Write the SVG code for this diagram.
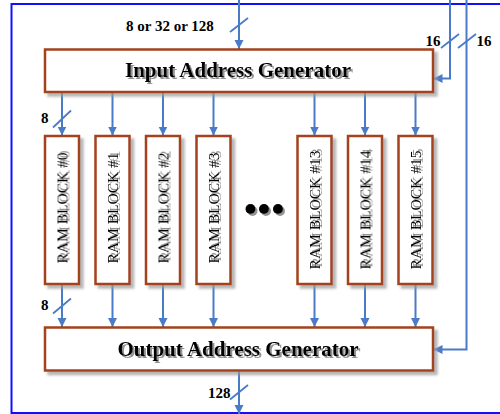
<svg xmlns="http://www.w3.org/2000/svg" width="500" height="414" viewBox="0 0 500 414">
<defs>
<style>
.frame{fill:none;stroke:#1010ff;stroke-width:2}
.box{fill:#fff;stroke:#a3421c;stroke-width:2.5}
.wire{fill:none;stroke:#4a7bc8;stroke-width:2}
.slash{fill:none;stroke:#4a7bc8;stroke-width:1.8}
.lbl{font-family:"Liberation Serif",serif;font-weight:bold;font-size:15px;fill:#000}
.title{font-family:"Liberation Serif",serif;font-weight:bold;font-size:21px;fill:#000;text-anchor:middle}
.ram{font-family:"Liberation Serif",serif;font-size:15.5px;fill:#000;text-anchor:middle}
</style>
<filter id="bs" x="-10%" y="-10%" width="130%" height="130%">
<feDropShadow dx="3.5" dy="3.5" stdDeviation="1" flood-color="#999" flood-opacity="0.7"/>
</filter>
<filter id="ts" x="-10%" y="-10%" width="130%" height="130%">
<feDropShadow dx="2" dy="2" stdDeviation="0.6" flood-color="#777" flood-opacity="0.8"/>
</filter>
<marker id="ah" viewBox="0 0 10 10" refX="10" refY="5" markerWidth="9" markerHeight="10" markerUnits="userSpaceOnUse" orient="auto">
<path d="M0,0 L10,5 L0,10 z" fill="#4a7bc8"/>
</marker>
</defs>
<rect class="frame" x="11.5" y="4" width="500" height="409"/>
<g id="connectors">
<path class="wire" d="M239,0 V49" marker-end="url(#ah)"/>
<path class="wire" d="M450,0 V78.5 H433.5" marker-end="url(#ah)"/>
<path class="wire" d="M466.5,0 V349.5 H433.5" marker-end="url(#ah)"/>
<path class="wire" d="M62,92.5 V135.5" marker-end="url(#ah)"/>
<path class="wire" d="M112.5,92.5 V135.5" marker-end="url(#ah)"/>
<path class="wire" d="M163,92.5 V135.5" marker-end="url(#ah)"/>
<path class="wire" d="M213.5,92.5 V135.5" marker-end="url(#ah)"/>
<path class="wire" d="M314.5,92.5 V135.5" marker-end="url(#ah)"/>
<path class="wire" d="M365,92.5 V135.5" marker-end="url(#ah)"/>
<path class="wire" d="M415.5,92.5 V135.5" marker-end="url(#ah)"/>
<path class="wire" d="M62,284 V327" marker-end="url(#ah)"/>
<path class="wire" d="M112.5,284 V327" marker-end="url(#ah)"/>
<path class="wire" d="M163,284 V327" marker-end="url(#ah)"/>
<path class="wire" d="M213.5,284 V327" marker-end="url(#ah)"/>
<path class="wire" d="M314.5,284 V327" marker-end="url(#ah)"/>
<path class="wire" d="M365,284 V327" marker-end="url(#ah)"/>
<path class="wire" d="M415.5,284 V327" marker-end="url(#ah)"/>
<path class="wire" d="M239,371 V414" marker-end="url(#ah)"/>
<path class="slash" d="M230,32 L248,18"/>
<path class="slash" d="M441,48 L459,34"/>
<path class="slash" d="M458,48 L476,34"/>
<path class="slash" d="M53,127.5 L71,110.5"/>
<path class="slash" d="M53,313.5 L71,298.5"/>
<path class="slash" d="M230,399.5 L248,385"/>
<text class="lbl" x="126" y="30.5">8 or 32 or 128</text>
<text class="lbl" x="425.5" y="46">16</text>
<text class="lbl" x="476.5" y="46">16</text>
<text class="lbl" x="41" y="123">8</text>
<text class="lbl" x="41" y="310">8</text>
<text class="lbl" x="208" y="397.5">128</text>
</g>
<g id="input-gen">
<rect class="box" filter="url(#bs)" x="45" y="49.5" width="388" height="42.5"/>
<text class="title" filter="url(#ts)" x="238" y="77">Input Address Generator</text>
</g>
<g id="output-gen">
<rect class="box" filter="url(#bs)" x="45" y="327.5" width="388" height="43"/>
<text class="title" filter="url(#ts)" x="238" y="355.5">Output Address Generator</text>
</g>
<g id="ram0"><rect class="box" filter="url(#bs)" x="45" y="136" width="34" height="148"/><text class="ram" filter="url(#ts)" transform="translate(67.5,208) rotate(-90)">RAM BLOCK #0</text></g>
<g id="ram1"><rect class="box" filter="url(#bs)" x="95.5" y="136" width="34" height="148"/><text class="ram" filter="url(#ts)" transform="translate(118,208) rotate(-90)">RAM BLOCK #1</text></g>
<g id="ram2"><rect class="box" filter="url(#bs)" x="146" y="136" width="34" height="148"/><text class="ram" filter="url(#ts)" transform="translate(168.5,208) rotate(-90)">RAM BLOCK #2</text></g>
<g id="ram3"><rect class="box" filter="url(#bs)" x="196.5" y="136" width="34" height="148"/><text class="ram" filter="url(#ts)" transform="translate(219,208) rotate(-90)">RAM BLOCK #3</text></g>
<g id="ram13"><rect class="box" filter="url(#bs)" x="297.5" y="136" width="34" height="148"/><text class="ram" filter="url(#ts)" transform="translate(320,210) rotate(-90)">RAM BLOCK #13</text></g>
<g id="ram14"><rect class="box" filter="url(#bs)" x="348" y="136" width="34" height="148"/><text class="ram" filter="url(#ts)" transform="translate(370.5,210) rotate(-90)">RAM BLOCK #14</text></g>
<g id="ram15"><rect class="box" filter="url(#bs)" x="398.5" y="136" width="34" height="148"/><text class="ram" filter="url(#ts)" transform="translate(421,210) rotate(-90)">RAM BLOCK #15</text></g>
<g id="ellipsis" filter="url(#ts)" fill="#000">
<circle cx="250.5" cy="209" r="5"/>
<circle cx="264" cy="209" r="5"/>
<circle cx="278" cy="209" r="5"/>
</g>
</svg>
